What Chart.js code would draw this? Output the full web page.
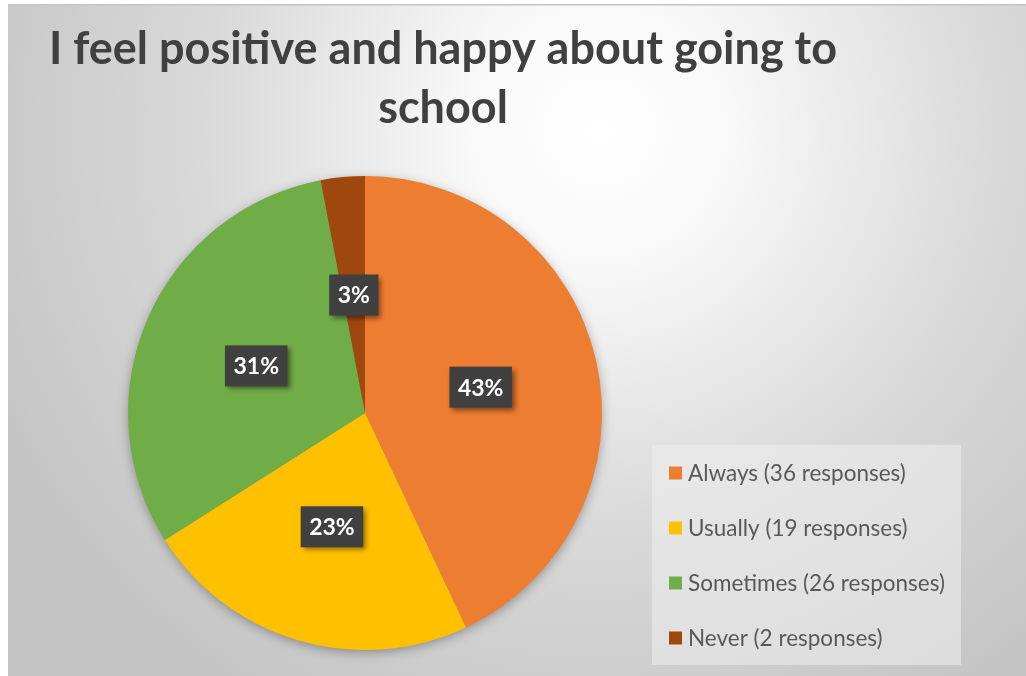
<!DOCTYPE html>
<html>
<head>
<meta charset="utf-8">
<title>I feel positive and happy about going to school</title>
<script src="https://cdn.jsdelivr.net/npm/chart.js@4.4.1/dist/chart.umd.min.js"></script>
<style>
  html, body { margin: 0; padding: 0; background: #ffffff; overflow: hidden; }
  #wrap { position: relative; width: 1026px; height: 676px; }
  canvas { display: block; }
</style>
</head>
<body>
<div id="wrap"><canvas id="pie" width="1026" height="676"></canvas></div>
<script>
// Survey question and answers
const titleLines = ['I feel positive and happy about going to', 'school'];
const answers = ['Always', 'Usually', 'Sometimes', 'Never'];
const responses = [36, 19, 26, 2];
const sharePercent = [43, 23, 31, 3];

const sliceColors = ['#ED7D31', '#FFC000', '#70AD47', '#9E480E'];
const FONT = "Lato, 'Open Sans', 'DejaVu Sans', sans-serif";

const legendLabels = answers.map((a, i) => `${a} (${responses[i]} responses)`);

// Grey radial backdrop with white frame edge
const backdrop = {
  id: 'backdrop',
  beforeDraw(chart) {
    const { ctx, width, height } = chart;
    ctx.save();
    ctx.fillStyle = '#ffffff';
    ctx.fillRect(0, 0, width, height);
    const g = ctx.createRadialGradient(600, 130, 0, 600, 130, 660);
    g.addColorStop(0, '#ffffff');
    g.addColorStop(0.2, '#f8f8f8');
    g.addColorStop(0.6, '#d9d9d9');
    g.addColorStop(1, '#c5c5c5');
    ctx.fillStyle = g;
    ctx.fillRect(8, 5, width - 8, height - 5);
    ctx.fillStyle = '#c4c4c4';
    ctx.fillRect(8, 4, width - 8, 1.5);
    ctx.restore();
  }
};

// Soft shadow under the whole pie
const pieShadow = {
  id: 'pieShadow',
  beforeDatasetsDraw(chart) {
    const arc = chart.getDatasetMeta(0).data[0];
    if (!arc) return;
    const { x, y, outerRadius } = arc.getProps(['x', 'y', 'outerRadius'], true);
    const ctx = chart.ctx;
    ctx.save();
    ctx.shadowColor = 'rgba(0,0,0,0.35)';
    ctx.shadowBlur = 12;
    ctx.shadowOffsetY = 3;
    ctx.fillStyle = '#999999';
    ctx.beginPath();
    ctx.arc(x, y, outerRadius - 1, 0, Math.PI * 2);
    ctx.fill();
    ctx.restore();
  }
};

// Dark percentage boxes at each slice's mid radius
const valueBoxes = {
  id: 'valueBoxes',
  afterDatasetsDraw(chart) {
    const ctx = chart.ctx;
    const meta = chart.getDatasetMeta(0);
    ctx.save();
    ctx.font = `bold 23px ${FONT}`;
    ctx.textAlign = 'center';
    ctx.textBaseline = 'middle';
    meta.data.forEach((arc, i) => {
      const p = arc.tooltipPosition(true);
      const text = chart.data.datasets[0].data[i] + '%';
      const w = ctx.measureText(text).width + 17;
      const h = 41;
      ctx.save();
      ctx.shadowColor = 'rgba(0,0,0,0.45)';
      ctx.shadowBlur = 5;
      ctx.shadowOffsetX = 3;
      ctx.shadowOffsetY = 3;
      ctx.fillStyle = '#404040';
      ctx.fillRect(p.x - w / 2, p.y - h / 2, w, h);
      ctx.restore();
      ctx.fillStyle = '#ffffff';
      ctx.fillText(text, p.x, p.y + 1);
    });
    ctx.restore();
  }
};

// Legend panel at lower right
const legendPanel = {
  id: 'legendPanel',
  afterDraw(chart) {
    const ctx = chart.ctx;
    const colors = chart.data.datasets[0].backgroundColor;
    ctx.save();
    ctx.fillStyle = 'rgba(238,238,238,0.55)';
    ctx.fillRect(652, 445, 309, 220);
    ctx.font = `22.5px ${FONT}`;
    ctx.textAlign = 'left';
    ctx.textBaseline = 'middle';
    chart.data.labels.forEach((label, i) => {
      const cy = 473 + i * 55;
      ctx.fillStyle = colors[i];
      ctx.fillRect(669, cy - 6.5, 13, 13);
      ctx.fillStyle = '#595959';
      ctx.fillText(label, 688, cy + 1);
    });
    ctx.restore();
  }
};

// Two-line title
const titleText = {
  id: 'titleText',
  afterDraw(chart) {
    const ctx = chart.ctx;
    ctx.save();
    ctx.font = `bold 45px ${FONT}`;
    ctx.fillStyle = '#404040';
    ctx.textAlign = 'center';
    ctx.textBaseline = 'alphabetic';
    ctx.fillText(titleLines[0], 443, 64);
    ctx.fillText(titleLines[1], 443, 123);
    ctx.restore();
  }
};

new Chart(document.getElementById('pie'), {
  type: 'pie',
  data: {
    labels: legendLabels,
    datasets: [{
      data: sharePercent,
      backgroundColor: sliceColors,
      borderWidth: 0
    }]
  },
  options: {
    responsive: false,
    devicePixelRatio: 1,
    animation: false,
    events: [],
    layout: { padding: { left: 128, right: 424, top: 176, bottom: 26 } },
    plugins: {
      legend: { display: false },
      title: { display: false },
      tooltip: { enabled: false }
    }
  },
  plugins: [backdrop, pieShadow, valueBoxes, legendPanel, titleText]
});
</script>
</body>
</html>
